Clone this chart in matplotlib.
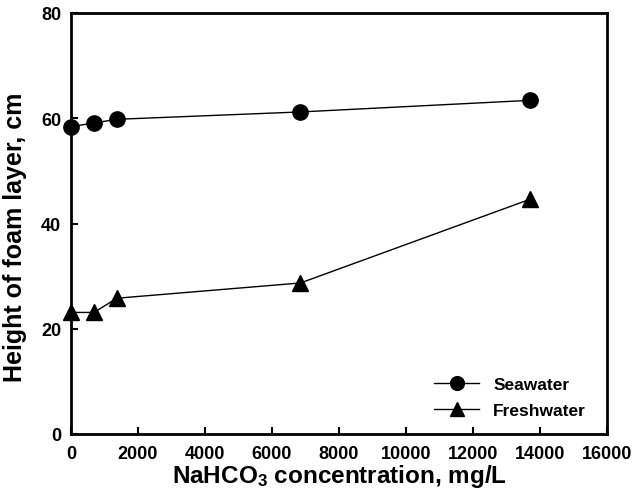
import matplotlib
matplotlib.use("Agg")
import matplotlib.pyplot as plt

conc = [0, 685, 1370, 6850, 13700]
seawater = [58.4, 59.1, 59.8, 61.2, 63.4]
freshwater = [23.1, 23.1, 25.8, 28.7, 44.6]
xticks = [0, 2000, 4000, 6000, 8000, 10000, 12000, 14000, 16000]
yticks = [0, 20, 40, 60, 80]

plt.rcParams['font.family'] = ['Liberation Sans', 'DejaVu Sans']
plt.rcParams['font.weight'] = 'bold'
plt.rcParams['mathtext.fontset'] = 'custom'
plt.rcParams['mathtext.bf'] = 'Liberation Sans:bold'
plt.rcParams['mathtext.rm'] = 'Liberation Sans:bold'
plt.rcParams['mathtext.default'] = 'bf'

fig = plt.figure(figsize=(6.41, 4.89), dpi=100)
ax = fig.add_axes([71/641, 54/489, (607-71)/641, (435-14)/489])

ax.plot(conc, seawater, color='black', lw=1.0, marker='o', ms=11, label='Seawater', clip_on=False, zorder=3)
ax.plot(conc, freshwater, color='black', lw=1.0, marker='^', ms=11, label='Freshwater', clip_on=False, zorder=3)

ax.set_xlim(0, 16000)
ax.set_ylim(0, 80)
ax.set_xticks(xticks)
ax.set_yticks(yticks)
ax.tick_params(direction='in', length=5, width=1.5, labelsize=13)
ax.tick_params(axis='x', pad=8)
ax.tick_params(axis='y', pad=7)
for lab in ax.get_xticklabels() + ax.get_yticklabels():
    lab.set_fontweight('bold')
for s in ax.spines.values():
    s.set_linewidth(2)

ax.set_xlabel('NaHCO$_{3}$ concentration, mg/L', fontsize=17.5, fontweight='bold', labelpad=0)
ax.set_ylabel('Height of foam layer, cm', fontsize=18, fontweight='bold', labelpad=6)
ax.yaxis.set_label_coords(-0.083, 0.47)

leg = ax.legend(loc='lower right', bbox_to_anchor=(0.99, 0.0), frameon=False,
                fontsize=12.5, handlelength=2.6, handletextpad=0.8, labelspacing=0.65, markerscale=0.9)
for t in leg.get_texts():
    t.set_fontweight('bold')

fig.savefig('out.png', dpi=100)
